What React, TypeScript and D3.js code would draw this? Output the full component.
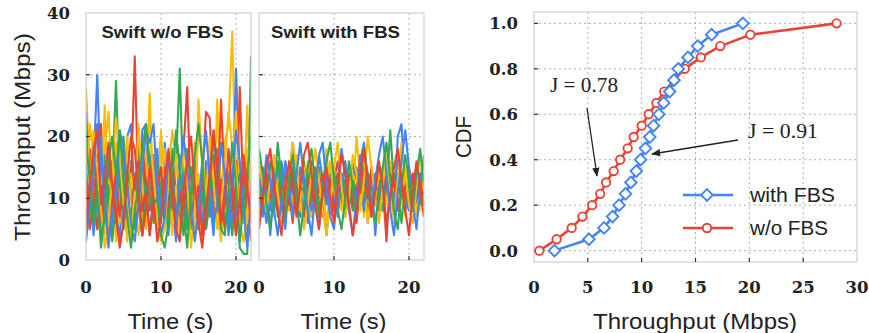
import React from "react";
import * as d3 from "d3";

const TIME = [0,0.5,1,1.5,2,2.5,3,3.5,4,4.5,5,5.5,6,6.5,7,7.5,8,8.5,9,9.5,10,10.5,11,11.5,12,12.5,13,13.5,14,14.5,15,15.5,16,16.5,17,17.5,18,18.5,19,19.5,20,20.5,21,21.5,22];

const COLORS = { y: "#FBBC05", b: "#4285F4", g: "#34A853", r: "#EA4335" };

// Swift w/o FBS flows
const L_Y1 = [28,14,6,12,9,18,24,11,5,8,13,7,15,10,4,9,12,27,6,14,8,11,5,16,10,7,12,18,9,4,26,15,8,13,6,26,10,19,22,37,12,5,9,25,7];
const L_Y2 = [8,22,17,5,10,25,6,14,3,12,9,20,11,7,15,4,18,10,13,6,21,9,12,4,17,8,14,11,6,19,10,5,16,12,21,8,3,13,9,15,24,11,6,18,12];
const L_Y3 = [12,5,10,16,7,4,13,9,19,6,11,3,14,8,22,12,5,16,9,7,13,18,10,6,12,4,9,15,11,7,14,3,10,18,13,8,12,5,16,9,4,11,14,6,10];
const L_Y4 = [18,12,21,15,8,2,6,14,23,17,9,10,4,11,7,16,20,22,14,6,3,5,14,21,16,12,19,13,2,8,22,17,10,20,13,5,9,15,24,18,15,6,3,7,16];
const L_B1 = [24,10,15,30,12,8,14,5,18,11,7,20,22,9,13,4,10,17,8,14,6,19,12,9,3,15,11,7,13,16,5,10,14,8,12,18,4,11,9,7,31,13,6,10,12];
const L_B2 = [16,7,12,9,20,5,11,14,8,3,17,10,6,13,9,21,22,12,7,10,15,11,4,13,8,17,10,6,14,9,12,5,16,11,8,13,10,15,7,12,5,9,16,8,11];
const L_B3 = [6,13,4,10,8,15,11,7,12,16,6,9,5,14,10,8,12,4,11,18,7,13,9,15,6,11,14,8,5,12,9,16,7,10,4,13,8,11,14,6,10,3,12,9,14];
const L_B4 = [3,9,14,22,16,11,2,8,10,21,18,12,6,3,9,15,21,19,22,12,4,7,17,11,5,14,20,15,9,3,8,15,21,13,6,9,19,14,4,13,21,16,8,2,10];
const L_G1 = [22,9,14,6,11,17,8,13,29,10,5,12,16,7,19,11,8,14,6,12,20,9,13,7,15,31,10,18,8,12,6,14,9,11,16,7,13,10,5,8,12,2,1,1,33];
const L_G2 = [14,6,18,10,4,13,8,16,11,7,20,9,14,5,12,17,8,10,15,6,13,9,11,18,7,14,10,5,12,16,8,11,13,7,10,15,9,6,12,14,8,11,7,13,10];
const L_G3 = [4,11,8,15,9,6,12,3,10,14,8,11,6,13,9,4,12,10,7,16,11,5,9,13,8,10,4,12,15,9,7,11,5,10,13,8,12,6,9,4,11,14,7,10,8];
const L_G4 = [19,13,6,11,2,8,16,20,14,21,13,7,2,8,12,18,22,16,9,10,4,2,6,13,21,15,8,2,11,17,22,16,7,12,20,14,5,4,11,19,12,3,9,14,20];
const L_R1 = [10,18,7,13,22,9,5,14,11,8,16,6,12,33,10,4,13,9,17,7,11,15,6,12,9,14,18,28,8,11,5,13,24,23,10,7,26,12,8,14,6,28,10,5,13];
const L_R2 = [7,14,10,5,12,8,16,11,6,13,9,4,15,10,7,19,12,8,14,5,10,13,7,16,11,6,12,9,15,8,11,14,5,10,17,9,6,12,8,13,16,7,11,9,3];
const L_R3 = [13,5,9,17,6,11,3,10,14,7,12,9,5,13,16,8,11,4,10,12,15,7,9,13,5,11,8,14,6,10,12,4,9,13,7,16,11,5,10,8,12,6,14,9,11];
const L_R4 = [5,12,18,21,9,13,19,12,7,2,6,14,20,18,11,4,8,15,10,3,7,13,18,10,5,3,11,16,20,12,6,2,8,14,21,15,6,9,18,11,4,10,17,12,6];

// Swift with FBS flows
const M_Y1 = [13,9,15,11,7,14,10,16,8,12,17,10,6,13,11,15,9,12,18,10,14,8,11,16,12,9,20,13,7,11,15,10,13,8,12,16,9,14,11,7,13,10,15,8,12];
const M_Y2 = [10,14,8,12,16,9,13,7,11,15,10,13,9,16,12,8,14,11,6,12,15,10,13,9,14,11,7,12,16,10,8,13,11,15,9,12,6,10,14,11,13,9,7,12,10];
const M_Y3 = [8,12,11,9,13,10,6,12,14,9,11,8,15,10,7,13,11,9,12,16,10,13,8,11,9,14,12,10,13,6,11,9,14,12,10,8,13,11,9,15,10,12,8,11,13];
const M_Y4 = [16,12,8,13,17,11,6,9,14,19,15,10,5,9,14,18,13,8,4,9,15,19,12,7,10,17,14,8,13,20,15,10,6,12,17,11,7,13,19,14,9,6,12,17,11];
const M_B1 = [11,7,14,4,12,9,16,10,13,19,11,8,14,6,12,10,17,13,4,11,15,9,12,7,13,16,10,12,8,14,11,9,13,15,10,12,7,20,22,11,14,9,12,10,13];
const M_B2 = [14,10,6,13,9,15,11,8,12,10,14,7,13,11,16,9,5,12,10,14,8,13,11,16,9,12,10,13,15,6,11,14,10,8,13,9,12,16,11,10,8,13,11,14,9];
const M_B3 = [9,13,11,8,14,12,10,5,13,11,9,15,12,10,8,14,11,13,9,12,10,7,14,11,13,10,8,12,9,11,14,4,12,10,13,11,9,14,12,8,11,13,10,12,11];
const M_B4 = [6,11,17,13,8,4,10,16,12,7,14,19,13,8,4,11,17,19,12,7,5,12,18,14,8,4,10,16,19,12,7,13,17,20,14,8,4,11,16,21,15,9,5,12,17];
const M_G1 = [7,12,10,16,11,19,13,9,12,8,14,11,10,13,7,12,15,10,13,9,11,14,12,8,13,10,15,11,9,12,14,10,8,13,11,21,12,9,14,10,12,8,11,13,7];
const M_G2 = [12,8,13,10,15,7,12,14,9,11,13,10,16,8,12,11,14,9,13,7,12,10,14,11,9,13,11,15,10,12,8,11,13,10,14,9,12,11,6,13,10,14,12,9,11];
const M_G3 = [10,13,9,12,8,11,14,10,12,15,9,12,11,14,10,13,8,12,11,9,14,12,10,13,11,8,12,14,10,13,9,12,11,8,13,10,14,12,11,9,13,10,12,14,8];
const M_G4 = [18,14,9,5,11,16,12,7,13,17,10,4,9,15,18,12,7,11,16,19,13,8,5,10,16,12,7,13,18,14,9,6,11,15,19,13,8,5,12,17,13,8,14,18,12];
const M_R1 = [11,15,9,13,10,12,8,14,11,6,13,10,15,12,9,11,14,7,12,10,13,16,11,9,12,14,10,17,13,8,11,12,15,10,13,9,11,14,10,12,15,11,9,13,16];
const M_R2 = [13,10,12,9,14,11,6,12,10,13,8,11,14,9,12,15,10,13,11,8,12,14,9,11,13,10,6,12,15,11,9,13,10,12,3,14,11,9,13,10,12,8,14,11,13];
const M_R3 = [9,11,14,10,12,8,13,11,9,14,12,10,7,13,11,9,12,14,10,13,8,11,12,10,14,9,12,11,13,10,15,9,11,14,12,10,13,8,11,12,9,14,11,10,12];
const M_R4 = [5,10,15,18,12,8,4,11,16,13,7,12,17,19,14,9,5,11,15,10,6,12,17,14,9,4,8,14,18,13,7,11,16,12,6,10,15,18,13,8,4,11,16,12,7];

const LEFT_SERIES: [string, number[]][] = [
  ["y", L_Y1], ["b", L_B1], ["g", L_G1], ["r", L_R1],
  ["y", L_Y2], ["b", L_B2], ["g", L_G2], ["r", L_R2],
  ["y", L_Y3], ["b", L_B3], ["g", L_G3], ["r", L_R3],
  ["y", L_Y4], ["b", L_B4], ["g", L_G4], ["r", L_R4],
];
const MID_SERIES: [string, number[]][] = [
  ["y", M_Y1], ["b", M_B1], ["g", M_G1], ["r", M_R1],
  ["y", M_Y2], ["b", M_B2], ["g", M_G2], ["r", M_R2],
  ["y", M_Y3], ["b", M_B3], ["g", M_G3], ["r", M_R3],
  ["y", M_Y4], ["b", M_B4], ["g", M_G4], ["r", M_R4],
];

// CDF
const CDF_P = [0,0.05,0.1,0.15,0.2,0.25,0.3,0.35,0.4,0.45,0.5,0.55,0.6,0.65,0.7,0.75,0.8,0.85,0.9,0.95,1.0];
const WITH_FBS = [1.9,5.1,6.5,7.3,7.9,8.5,9.0,9.5,9.9,10.35,10.75,11.1,11.6,12.05,12.6,13.0,13.4,14.3,15.2,16.5,19.4];
const WO_FBS = [0.5,2.1,3.5,4.5,5.4,6.15,6.7,7.4,8.0,8.7,9.26,10.0,10.65,11.37,12.1,13.0,14.0,15.5,17.3,20.1,28.1];

const TS_Y_TICKS = [0,10,20,30,40];
const TS_X_TICKS = [0,10,20];
const CDF_Y_TICKS = [0,0.2,0.4,0.6,0.8,1.0];
const CDF_X_TICKS = [0,5,10,15,20,25,30];

const SERIF = "'DejaVu Serif', 'Liberation Serif', serif";
const SERIF2 = "'Liberation Serif', 'DejaVu Serif', serif";
const SANS = "'Liberation Sans', 'DejaVu Sans', sans-serif";
const GRID = "#b0b0b0";
const BOX = "#cfcfcf";
const INK = "#222";

function TsPanel({ x0, x1, series, label, labelW, showY, id }: { x0: number; x1: number; series: [string, number[]][]; label: string; labelW: number; showY: boolean; id: string }) {
  const top = 13, bottom = 260;
  const x = d3.scaleLinear().domain([0, 22]).range([x0, x1]);
  const y = d3.scaleLinear().domain([0, 40]).range([bottom, top]);
  const line = d3.line<number>().x((_, i) => x(TIME[i])).y((d) => y(d));
  return (
    <g>
      <defs>
        <clipPath id={id}>
          <rect x={x0} y={top} width={x1 - x0} height={bottom - top} />
        </clipPath>
      </defs>
      {TS_Y_TICKS.filter((t) => t > 0 && t < 40).map((t) => (
        <line key={"gy" + t} x1={x0} x2={x1} y1={y(t)} y2={y(t)} stroke={GRID} strokeWidth={1} strokeDasharray="2,3" />
      ))}
      {TS_X_TICKS.filter((t) => t > 0).map((t) => (
        <line key={"gx" + t} x1={x(t)} x2={x(t)} y1={top} y2={bottom} stroke={GRID} strokeWidth={1} strokeDasharray="2,3" />
      ))}
      <g clipPath={`url(#${id})`}>
        {series.map(([c, vals], i) => (
          <path key={i} d={line(vals) || ""} fill="none" stroke={(COLORS as any)[c]} strokeWidth={2.1} strokeLinejoin="round" />
        ))}
      </g>
      <rect x={x0} y={top} width={x1 - x0} height={bottom - top} fill="none" stroke={BOX} strokeWidth={1.2} />
      {TS_Y_TICKS.filter((t) => t > 0 && t < 40).map((t) => (
        <line key={"ty" + t} x1={x0} x2={x0 + 4} y1={y(t)} y2={y(t)} stroke="#333" strokeWidth={1.2} />
      ))}
      {TS_X_TICKS.filter((t) => t > 0).map((t) => (
        <line key={"tx" + t} x1={x(t)} x2={x(t)} y1={bottom} y2={bottom - 4} stroke="#333" strokeWidth={1.2} />
      ))}
      {showY && TS_Y_TICKS.map((t) => (
        <text key={"ly" + t} x={x0 - 16} y={y(t)} dy="0.36em" textAnchor="end" fontFamily={SERIF} fontWeight="bold" fontSize={16.5} fill={INK}>{t}</text>
      ))}
      {TS_X_TICKS.map((t) => (
        <text key={"lx" + t} x={x(t)} y={287} dy="0.36em" textAnchor="middle" fontFamily={SERIF} fontWeight="bold" fontSize={16.5} fill={INK}>{t}</text>
      ))}
      <text x={(x0 + x1) / 2 - 6} y={32} dy="0.35em" textAnchor="middle" fontFamily={SANS} fontWeight="bold" fontSize={16} textLength={labelW} lengthAdjust="spacingAndGlyphs" fill={INK}>{label}</text>
      <text x={(x0 + x1) / 2 + 2} y={321} dy="0.35em" textAnchor="middle" fontFamily={SANS} fontSize={22} textLength={86} lengthAdjust="spacingAndGlyphs" fill={INK}>Time (s)</text>
    </g>
  );
}

function CdfPanel() {
  const x0 = 534, x1 = 857, top = 12, bottom = 262;
  const x = d3.scaleLinear().domain([0, 30]).range([x0, x1]);
  const y = d3.scaleLinear().domain([-0.05, 1.05]).range([bottom, top]);
  const line = d3.line<number>().x((d) => x(d)).y((_, i) => y(CDF_P[i]));
  const blue = "#4285F4", red = "#EA4335";
  const diamond = (cx: number, cy: number, s: number) => `M${cx},${cy - s}L${cx + s},${cy}L${cx},${cy + s}L${cx - s},${cy}Z`;
  return (
    <g>
      {CDF_Y_TICKS.map((t) => (
        <line key={"gy" + t} x1={x0} x2={x1} y1={y(t)} y2={y(t)} stroke={GRID} strokeWidth={1} strokeDasharray="2,3" />
      ))}
      {CDF_X_TICKS.filter((t) => t > 0 && t < 30).map((t) => (
        <line key={"gx" + t} x1={x(t)} x2={x(t)} y1={top} y2={bottom} stroke={GRID} strokeWidth={1} strokeDasharray="2,3" />
      ))}
      <rect x={x0} y={top} width={x1 - x0} height={bottom - top} fill="none" stroke={BOX} strokeWidth={1.2} />
      {CDF_Y_TICKS.map((t) => (
        <line key={"ty" + t} x1={x0} x2={x0 + 4} y1={y(t)} y2={y(t)} stroke="#333" strokeWidth={1.2} />
      ))}
      {CDF_X_TICKS.filter((t) => t > 0 && t < 30).map((t) => (
        <line key={"tx" + t} x1={x(t)} x2={x(t)} y1={bottom} y2={bottom - 4} stroke="#333" strokeWidth={1.2} />
      ))}
      <path d={line(WO_FBS) || ""} fill="none" stroke={red} strokeWidth={2.6} />
      <path d={line(WITH_FBS) || ""} fill="none" stroke={blue} strokeWidth={2.6} />
      {WO_FBS.map((v, i) => (
        <circle key={"r" + i} cx={x(v)} cy={y(CDF_P[i])} r={4.2} fill="white" stroke={red} strokeWidth={1.9} />
      ))}
      {WITH_FBS.map((v, i) => (
        <path key={"b" + i} d={diamond(x(v), y(CDF_P[i]), 5.8)} fill="white" stroke={blue} strokeWidth={1.9} />
      ))}
      {CDF_Y_TICKS.map((t) => (
        <text key={"ly" + t} x={518} y={y(t)} dy="0.36em" textAnchor="end" fontFamily={SERIF} fontWeight="bold" fontSize={16.5} fill={INK}>{t.toFixed(1)}</text>
      ))}
      {CDF_X_TICKS.map((t) => (
        <text key={"lx" + t} x={x(t)} y={287} dy="0.36em" textAnchor="middle" fontFamily={SERIF} fontWeight="bold" fontSize={16.5} fill={INK}>{t}</text>
      ))}
      <text x={695} y={321} dy="0.35em" textAnchor="middle" fontFamily={SANS} fontSize={22} textLength={204} lengthAdjust="spacingAndGlyphs" fill={INK}>Throughput (Mbps)</text>
      <text transform={`translate(463,137) rotate(-90)`} dy="0.35em" textAnchor="middle" fontFamily={SANS} fontSize={22} textLength={42} lengthAdjust="spacingAndGlyphs" fill={INK}>CDF</text>
      {/* legend */}
      <line x1={683} x2={733} y1={195} y2={195} stroke={blue} strokeWidth={2.6} />
      <path d={diamond(707, 195, 5.8)} fill="white" stroke={blue} strokeWidth={1.9} />
      <text x={750} y={195} dy="0.35em" fontFamily={SANS} fontSize={20} textLength={85} lengthAdjust="spacingAndGlyphs" fill={INK}>with FBS</text>
      <line x1={683} x2={733} y1={228} y2={228} stroke={red} strokeWidth={2.6} />
      <circle cx={707} cy={228} r={4.2} fill="white" stroke={red} strokeWidth={1.9} />
      <text x={750} y={228} dy="0.35em" fontFamily={SANS} fontSize={20} textLength={78} lengthAdjust="spacingAndGlyphs" fill={INK}>w/o FBS</text>
      {/* annotations */}
      <defs>
        <marker id="arr" viewBox="0 0 10 10" refX="9" refY="5" markerWidth="7" markerHeight="7" orient="auto">
          <path d="M0,1L10,5L0,9Z" fill={INK} />
        </marker>
      </defs>
      <text x={550} y={85} dy="0.35em" fontFamily={SERIF2} fontSize={20} textLength={68} lengthAdjust="spacingAndGlyphs" fill={INK}>J = 0.78</text>
      <line x1={587} y1={108} x2={597} y2={176} stroke={INK} strokeWidth={1.3} markerEnd="url(#arr)" />
      <text x={748} y={131} dy="0.35em" fontFamily={SERIF2} fontSize={20} textLength={70} lengthAdjust="spacingAndGlyphs" fill={INK}>J = 0.91</text>
      <line x1={738} y1={140} x2={652} y2={154} stroke={INK} strokeWidth={1.3} markerEnd="url(#arr)" />
    </g>
  );
}

export default function App() {
  return (
    <svg width={869} height={333} style={{ position: "absolute", left: 0, top: 0, background: "white" }}>
      <rect width={869} height={333} fill="white" />
      <TsPanel x0={86} x1={251} series={LEFT_SERIES} label="Swift w/o FBS" labelW={122} showY={true} id="clipL" />
      <TsPanel x0={259} x1={424} series={MID_SERIES} label="Swift with FBS" labelW={129} showY={false} id="clipM" />
      <text transform={`translate(22,137) rotate(-90)`} dy="0.35em" textAnchor="middle" fontFamily={SANS} fontSize={22} textLength={208} lengthAdjust="spacingAndGlyphs" fill={INK}>Throughput (Mbps)</text>
      <CdfPanel />
    </svg>
  );
}
